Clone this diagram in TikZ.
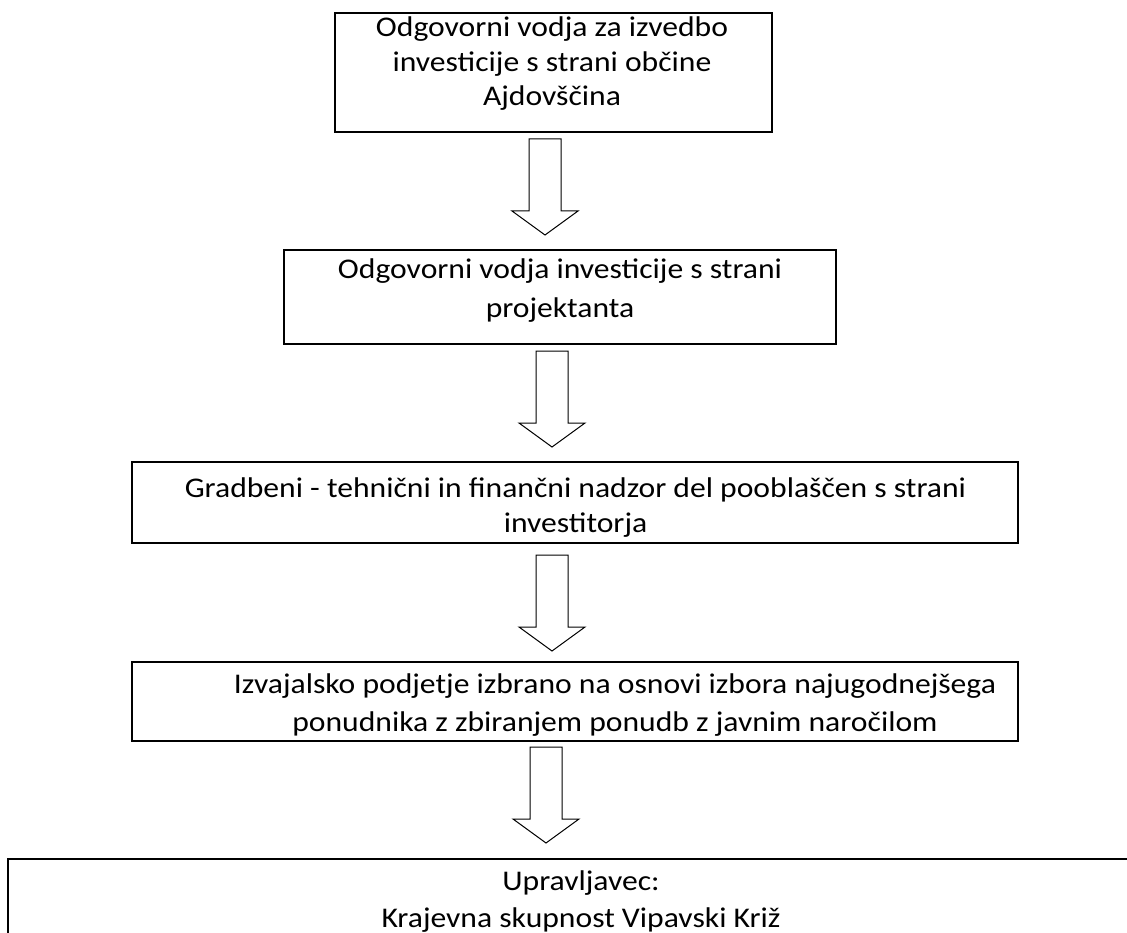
\documentclass[tikz,border=0pt]{standalone}
\usepackage{fontspec}
\setmainfont{Carlito}[FakeStretch=1.11]
\tikzset{
  box/.style={draw=black, line width=2pt, fill=none, rectangle, inner sep=0pt},
  boxtext/.style={align=center, inner sep=0pt, anchor=base, text=black},
  arrowline/.style={draw=black, fill=white, line width=1pt, line join=miter},
  pics/blockarrow/.style={code={
    \draw[arrowline] (-16,0) -- (16,0) -- (16,72) -- (33,72) -- (0,96)
      -- (-33,72) -- (-16,72) -- cycle;
  }}
}
\begin{document}
\begin{tikzpicture}[x=1pt,y=-1pt]
\useasboundingbox (0,0) rectangle (1127,933);
\clip (0,0) rectangle (1127,933);
\fill[white] (0,0) rectangle (1127,933);

% boxes
\node[box, minimum width=437pt, minimum height=119pt] (b1) at (553.5,72.5) {};
\node[box, minimum width=552pt, minimum height=94pt] (b2) at (560,297) {};
\node[box, minimum width=886pt, minimum height=81pt] (b3) at (575,502.5) {};
\node[box, minimum width=886pt, minimum height=79pt] (b4) at (575,701.5) {};
\node[box, minimum width=1146pt, minimum height=160pt] (b5) at (581,939) {};

% texts (anchor = baseline of last line)
\node[boxtext, font=\fontsize{28.5}{34.5}\selectfont] (t1) at (552,106)
  {Odgovorni vodja za izvedbo\\investicije s strani občine\\Ajdovščina};
\node[boxtext, font=\fontsize{28.5}{39}\selectfont] (t2) at (560,317)
  {Odgovorni vodja investicije s strani\\projektanta};
\node[boxtext, font=\fontsize{28.5}{35}\selectfont] (t3) at (575.5,532)
  {Gradbeni - tehnični in finančni nadzor del pooblaščen s strani\\investitorja};
\node[boxtext, font=\fontsize{28.5}{38}\selectfont] (t4) at (615,731)
  {Izvajalsko podjetje izbrano na osnovi izbora najugodnejšega\\ponudnika z zbiranjem ponudb z javnim naročilom};
\node[boxtext, font=\fontsize{28.5}{37}\selectfont] (t5) at (581,927)
  {Upravljavec:\\Krajevna skupnost Vipavski Križ};

% block arrows
\pic (a1) at (545,139) {blockarrow};
\pic (a2) at (552,351) {blockarrow};
\pic (a3) at (552,555) {blockarrow};
\pic (a4) at (546,747) {blockarrow};
\end{tikzpicture}
\end{document}
